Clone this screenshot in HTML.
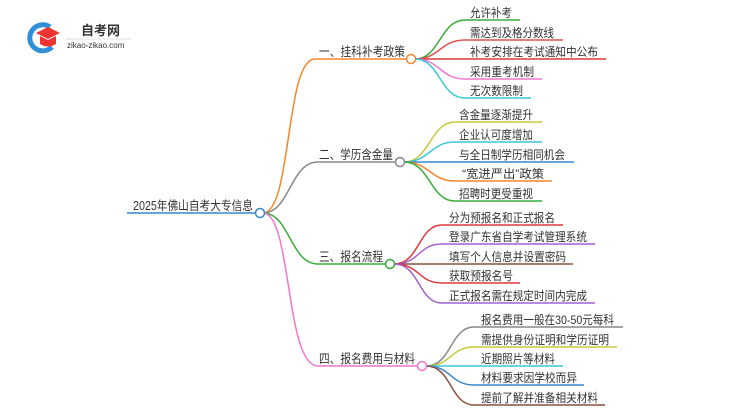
<!DOCTYPE html>
<html><head><meta charset="utf-8"><style>
html,body{margin:0;padding:0;background:#fff;}
svg{display:block;}
text{font-family:"Liberation Sans","Noto Sans CJK SC",sans-serif;fill:#333;}
</style></head><body>
<svg width="750" height="410" viewBox="0 0 750 410" xmlns="http://www.w3.org/2000/svg">
<!-- logo -->
<path d="M50,27 A13,13 0 1 0 52,47" fill="none" stroke="#2f8fd8" stroke-width="5"/>
<path d="M36,33 L48,27 L60,33 L48,39 Z" fill="#e33"/>
<path d="M40,36 L40,44 Q48,49 56,44 L56,36 L48,40 Z" fill="#e33"/>
<text x="81" y="35" font-size="13" font-weight="bold" fill="#333">自考网</text>
<line x1="66" y1="39" x2="131" y2="39" stroke="#ddd" stroke-width="1"/>
<text x="67" y="48" font-size="8" fill="#777">zikao-zikao.com</text>

<g fill="none" stroke-width="1.5">
<line x1="127" y1="213" x2="256" y2="213" stroke="#3a86c8"/>
<path d="M263,213 C292,213 285,59 315,59 L407,59" stroke="#f7862a"/>
<path d="M263,213 C290,213 290,162 318,162 L396,162" stroke="#888"/>
<path d="M263,213 C290,213 290,264 318,264 L386,264" stroke="#3aac3a"/>
<path d="M263,213 C292,213 285,366 318,366 L418,366" stroke="#ee77cc"/>
<path d="M415,59 C440,59 440,20 465,20 L520,20" stroke="#3aac3a"/>
<path d="M415,59 C440,59 440,40 465,40 L563,40" stroke="#e05050"/>
<path d="M415,59 L606,59" stroke="#d93a3a"/>
<path d="M415,59 C440,59 440,79 465,79 L542,79" stroke="#ee77cc"/>
<path d="M415,59 C440,59 440,98 465,98 L531,98" stroke="#3ac8d8"/>
<path d="M404,162 C430,162 430,122 455,122 L542,122" stroke="#c8c83a"/>
<path d="M404,162 C430,162 430,142 455,142 L542,142" stroke="#3ac8d8"/>
<path d="M404,162 L574,162" stroke="#3a86c8"/>
<path d="M404,162 C430,162 430,181 455,181 L552,181" stroke="#f7862a"/>
<path d="M404,162 C430,162 430,201 455,201 L542,201" stroke="#3aac3a"/>
<path d="M394,264 C420,264 418,225 442,225 L563,225" stroke="#e03a3a"/>
<path d="M394,264 C420,264 418,244 442,244 L595,244" stroke="#a060d0"/>
<path d="M394,264 L573,264" stroke="#8a5040"/>
<path d="M394,264 C420,264 418,283 442,283 L520,283" stroke="#e03a3a"/>
<path d="M394,264 C420,264 418,303 442,303 L595,303" stroke="#a060d0"/>
<path d="M426,366 C452,366 450,327 474,327 L623,327" stroke="#888"/>
<path d="M426,366 C452,366 450,347 474,347 L617,347" stroke="#c8c83a"/>
<path d="M426,366 L563,366" stroke="#3ac8d8"/>
<path d="M426,366 C452,366 450,385 474,385 L584,385" stroke="#3a86c8"/>
<path d="M426,366 C452,366 450,405 474,405 L605,405" stroke="#8a5040"/>
</g>
<g fill="#fff" stroke-width="1.5">
<circle cx="260" cy="213" r="4.5" stroke="#3a86c8"/>
<circle cx="411" cy="59" r="4.5" stroke="#f7862a"/>
<circle cx="400" cy="162" r="4.5" stroke="#888"/>
<circle cx="390" cy="264" r="4.5" stroke="#3aac3a"/>
<circle cx="422" cy="366" r="4.5" stroke="#ee77cc"/>
</g>
<g font-size="12.5" lengthAdjust="spacingAndGlyphs">
<text x="133" y="210" textLength="120" lengthAdjust="spacingAndGlyphs">2025年佛山自考大专信息</text>
<text x="319" y="56" textLength="86" lengthAdjust="spacingAndGlyphs">一、挂科补考政策</text>
<text x="319" y="159" textLength="74" lengthAdjust="spacingAndGlyphs">二、学历含金量</text>
<text x="319" y="261" textLength="64" lengthAdjust="spacingAndGlyphs">三、报名流程</text>
<text x="319" y="363" textLength="96" lengthAdjust="spacingAndGlyphs">四、报名费用与材料</text>
</g>
<g font-size="12">
<text x="470" y="17" textLength="42" lengthAdjust="spacingAndGlyphs">允许补考</text>
<text x="470" y="37" textLength="84" lengthAdjust="spacingAndGlyphs">需达到及格分数线</text>
<text x="470" y="56" textLength="128" lengthAdjust="spacingAndGlyphs">补考安排在考试通知中公布</text>
<text x="470" y="76" textLength="64" lengthAdjust="spacingAndGlyphs">采用重考机制</text>
<text x="470" y="95" textLength="53" lengthAdjust="spacingAndGlyphs">无次数限制</text>
<text x="459" y="119" textLength="74" lengthAdjust="spacingAndGlyphs">含金量逐渐提升</text>
<text x="459" y="139" textLength="74" lengthAdjust="spacingAndGlyphs">企业认可度增加</text>
<text x="459" y="159" textLength="106" lengthAdjust="spacingAndGlyphs">与全日制学历相同机会</text>
<text x="462" y="178" textLength="82" lengthAdjust="spacingAndGlyphs">“宽进严出”政策</text>
<text x="459" y="198" textLength="74" lengthAdjust="spacingAndGlyphs">招聘时更受重视</text>
<text x="449" y="222" textLength="106" lengthAdjust="spacingAndGlyphs">分为预报名和正式报名</text>
<text x="449" y="241" textLength="138" lengthAdjust="spacingAndGlyphs">登录广东省自学考试管理系统</text>
<text x="449" y="261" textLength="117" lengthAdjust="spacingAndGlyphs">填写个人信息并设置密码</text>
<text x="449" y="280" textLength="64" lengthAdjust="spacingAndGlyphs">获取预报名号</text>
<text x="449" y="300" textLength="138" lengthAdjust="spacingAndGlyphs">正式报名需在规定时间内完成</text>
<text x="481" y="324" textLength="133" lengthAdjust="spacingAndGlyphs">报名费用一般在30-50元每科</text>
<text x="481" y="344" textLength="128" lengthAdjust="spacingAndGlyphs">需提供身份证明和学历证明</text>
<text x="481" y="363" textLength="74" lengthAdjust="spacingAndGlyphs">近期照片等材料</text>
<text x="481" y="382" textLength="96" lengthAdjust="spacingAndGlyphs">材料要求因学校而异</text>
<text x="481" y="402" textLength="117" lengthAdjust="spacingAndGlyphs">提前了解并准备相关材料</text>
</g>
</svg>
</body></html>
